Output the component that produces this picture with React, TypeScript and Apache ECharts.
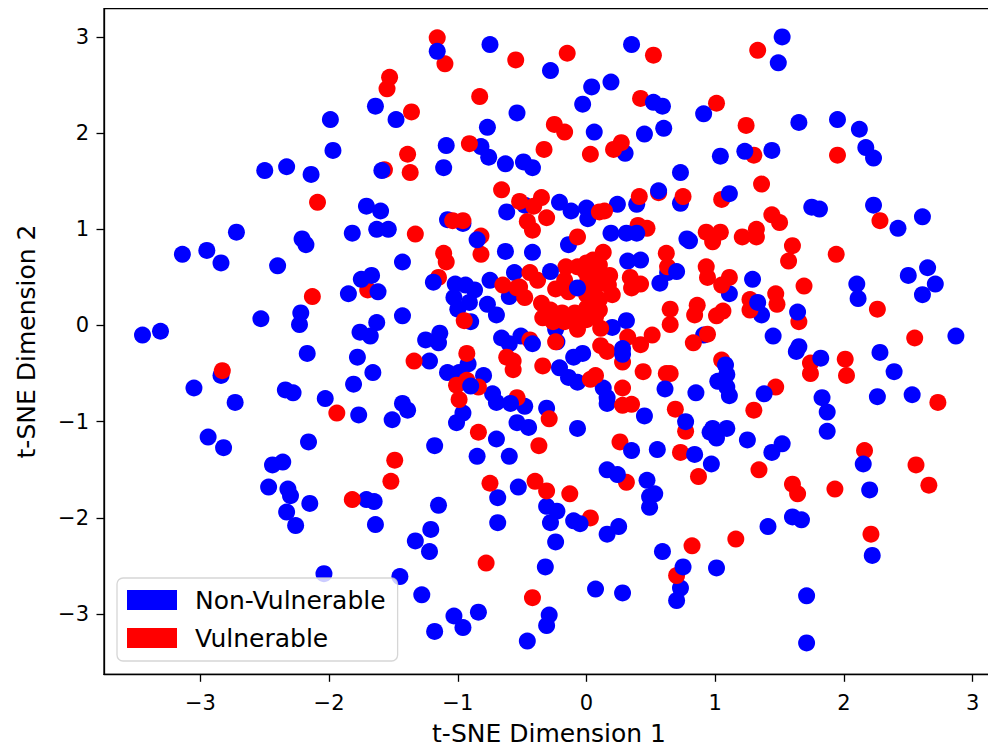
import React, { useEffect, useRef } from "react";
import * as echarts from "echarts";

const tickValues = [-3, -2, -1, 0, 1, 2, 3];
const legendNames = ["Non-Vulnerable", "Vulnerable"];
const xName = "t-SNE Dimension 1";
const yName = "t-SNE Dimension 2";

// Non-vulnerable points drawn beneath the vulnerable ones
const nonVulnerableBack: number[][] = [
[-1.48,2.14],[-1.64,2.28],[-1.99,2.14],[-1.97,1.82],[-2.50,1.61],[-2.33,1.65],[-2.14,1.57],[-1.71,1.24],[-1.60,1.19],[-1.63,1.00],
[-1.54,1.00],[-1.82,0.96],[-2.72,0.97],[-2.95,0.78],[-3.14,0.74],[-2.84,0.65],[-2.21,0.90],[-2.18,0.84],[-2.40,0.62],[-1.43,0.66],
[-1.85,0.33],[-2.22,0.13],[-2.23,0.01],[-2.53,0.07],[-1.63,0.03],[-1.43,0.10],[-1.76,-0.07],[-1.68,-0.11],[-3.31,-0.06],[-3.45,-0.10],
[-2.17,-0.29],[-1.78,-0.33],[-1.66,-0.49],[-1.81,-0.61],[-2.84,-0.52],[-3.05,-0.65],[-2.73,-0.80],[-2.34,-0.67],[-2.28,-0.70],[-2.03,-0.76],
[-1.77,-0.93],[-1.51,-0.98],[-1.43,-0.81],[-1.39,-0.88],[-2.94,-1.16],[-2.82,-1.27],[-2.16,-1.21],[-2.44,-1.45],[-2.36,-1.42],[-2.47,-1.68],
[-2.32,-1.70],[-2.30,-1.77],[-2.15,-1.85],[-2.33,-1.94],[-2.26,-2.08],[-1.71,-1.81],[-1.65,-1.83],[-1.64,-2.07],[-2.04,-2.58],[-1.45,-2.61],
[-0.75,2.92],[-0.28,2.65],[0.04,2.48],[-0.03,2.30],[-0.54,2.21],[-0.77,2.06],[0.06,2.01],[-1.09,1.87],[-0.82,1.86],[-0.76,1.75],
[-0.63,1.68],[-0.49,1.70],[-0.42,1.64],[-1.11,1.64],[-0.62,1.18],[-0.48,1.25],[0.00,1.22],[0.01,1.11],[-1.08,1.10],[-0.96,1.06],
[-0.14,0.84],[-0.63,0.77],[-0.42,0.76],[-0.75,0.47],[-0.56,0.55],[-0.60,0.30],[-1.02,0.43],[-0.94,0.42],[-0.87,0.37],[-1.03,0.29],
[-0.91,0.24],[-1.00,0.17],[-0.77,0.22],[-0.70,0.11],[-0.90,0.04],[-1.14,-0.08],[-1.25,-0.15],[-1.15,-0.18],[-0.66,-0.13],[-0.60,-0.19],
[-0.51,-0.11],[-0.92,-0.40],[-1.08,-0.49],[-0.99,-0.49],[-1.22,-0.37],[-0.80,-0.52],[-0.73,-0.71],[-0.70,-0.80],[-0.96,-0.91],[-1.01,-1.01],
[-0.54,-1.01],[-0.45,-1.06],[-0.48,-0.84],[-0.31,-0.86],[-0.70,-1.18],[-1.18,-1.25],[-0.85,-1.36],[-0.60,-1.36],[-0.07,-1.07],[0.16,-0.81],
[0.45,-0.94],[0.16,-1.50],[0.47,-1.61],[0.49,-1.78],[0.49,-1.89],[-0.53,-1.68],[-0.69,-1.79],[-1.15,-1.87],[-1.21,-2.12],[-1.33,-2.24],
[-1.22,-2.35],[-0.69,-2.05],[-0.31,-1.88],[-0.23,-1.93],[-0.28,-2.05],[-0.24,-2.25],[0.16,-2.17],[0.25,-2.09],[-0.32,-2.51],[-1.28,-2.80],
[0.07,-2.74],[0.28,-2.78],[-0.84,-2.98],[-1.03,-3.02],[-0.96,-3.14],[-1.18,-3.18],[-0.29,-3.01],[-0.31,-3.12],[-0.46,-3.28],[0.35,2.92],
[0.19,2.53],[0.45,1.99],[0.60,2.05],[0.30,1.79],[1.04,1.76],[1.44,1.82],[0.73,1.59],[0.73,1.27],[0.39,1.26],[0.24,1.26],
[0.78,0.90],[0.80,0.88],[1.52,3.00],[1.49,2.73],[1.65,2.11],[1.95,2.14],[2.12,2.04],[2.17,1.85],[2.23,1.74],[1.75,1.23],
[1.81,1.21],[2.23,1.25],[2.42,1.01],[2.61,1.13],[2.10,0.43],[2.11,0.28],[2.50,0.52],[2.65,0.60],[2.71,0.43],[2.61,0.32],
[2.87,-0.11],[2.28,-0.28],[2.39,-0.48],[2.26,-0.74],[2.53,-0.72],[1.83,-0.75],[1.87,-0.90],[1.87,-1.10],[2.20,-1.71],[2.22,-2.39],
[1.60,-1.99],[1.67,-2.02],[1.41,-2.09],[1.71,-2.81],[1.71,-3.30],[1.01,-2.52],[0.59,-2.35],[0.73,-2.73],[0.70,-2.86],[0.55,-1.29],
[0.53,-1.75],[0.98,-1.07],[1.09,-1.07],[1.01,-1.17],[0.96,-1.11],[1.25,-1.19],[1.44,-1.32],[1.52,-1.23],[1.09,-0.51],[1.02,-0.58],
[1.09,-0.64],[1.11,-0.73],[0.85,-0.70],[1.45,-0.11],[1.36,0.11],[1.29,0.48],[1.11,0.33],[0.91,-0.10],[0.32,0.67],[0.42,0.68],
[0.63,0.55],[0.20,-0.02],[0.31,0.05],[-0.24,-0.04],[-0.23,-0.17],[-0.10,-0.33],[-0.03,-0.29],[-0.21,-0.44],[-0.14,-0.54],[-0.07,-0.59],
[0.13,-0.65],[0.16,-0.75],
];

const vulnerablePoints: number[][] = [
[-1.53,2.58],[-1.55,2.46],[-1.57,1.62],[-2.09,1.28],[-1.70,0.37],[-2.13,0.30],[-1.39,1.78],[-1.37,1.59],[-1.36,2.22],[-1.33,0.95],
[-2.83,-0.47],[-1.94,-0.91],[-1.49,-1.40],[-1.52,-1.62],[-1.82,-1.81],[-1.16,2.99],[-1.10,2.72],[-0.55,2.76],[-0.15,2.83],[-0.83,2.38],
[-0.25,2.09],[-0.17,2.01],[-0.91,1.89],[-0.33,1.83],[0.03,1.78],[-0.66,1.41],[-0.52,1.29],[-0.35,1.33],[-0.41,1.24],[-0.46,1.08],
[-0.31,1.12],[-0.42,0.99],[0.10,1.18],[-1.04,1.09],[-0.96,1.09],[-0.82,0.93],[-0.07,0.92],[-1.11,0.75],[-1.09,0.66],[-0.82,0.74],
[-1.15,0.50],[-0.65,0.42],[-0.54,0.39],[-0.95,0.05],[-0.93,-0.29],[-1.34,-0.37],[-0.62,-0.33],[-0.57,-0.37],[-0.57,-0.46],[-1.01,-0.62],
[-0.93,-0.57],[-0.84,-0.64],[-0.99,-0.77],[-0.54,-0.75],[-0.84,-1.11],[-0.29,-0.97],[-0.37,-1.25],[0.28,-0.83],[0.35,-0.82],[0.26,-1.21],
[0.31,-1.63],[-0.75,-1.64],[-0.40,-1.62],[-0.31,-1.72],[-0.13,-1.75],[0.03,-2.00],[-0.78,-2.47],[-0.42,-2.83],[0.52,2.81],[1.33,2.86],
[0.42,2.36],[1.01,2.31],[1.24,2.08],[0.27,1.90],[0.21,1.83],[1.30,1.77],[1.36,1.47],[0.56,1.38],[1.05,1.31],[0.75,1.34],
[0.41,1.34],[0.14,1.19],[1.44,1.15],[1.50,1.07],[0.40,1.04],[0.47,1.01],[0.93,0.97],[1.04,0.97],[0.98,0.87],[1.21,0.92],
[1.32,1.00],[1.32,0.92],[0.62,0.75],[1.60,0.83],[1.57,0.67],[1.94,0.74],[1.69,0.41],[2.26,0.17],[2.28,1.09],[1.95,1.77],
[1.65,0.04],[2.55,-0.13],[0.93,0.61],[0.94,0.50],[1.11,0.50],[1.05,0.42],[1.27,0.27],[1.27,0.16],[1.47,0.33],[1.48,0.22],
[0.86,0.21],[0.84,0.11],[1.06,0.15],[1.01,0.10],[0.65,0.17],[0.65,0.01],[0.94,-0.09],[0.83,-0.18],[1.05,-0.36],[1.47,-0.64],
[1.30,-0.88],[1.74,-0.39],[1.74,-0.50],[2.01,-0.35],[2.02,-0.52],[2.73,-0.80],[2.16,-1.30],[2.56,-1.45],[2.66,-1.66],[1.93,-1.70],
[1.60,-1.65],[1.64,-1.75],[2.21,-2.17],[1.34,-1.50],[0.87,-1.57],[0.77,-1.10],[0.73,-1.32],[0.65,-0.50],[0.69,-0.87],[1.16,-2.22],
[0.82,-2.29],[0.70,-2.60],[0.13,0.76],[0.05,0.68],[-0.16,0.61],[-0.07,0.61],[0.00,0.65],[-0.01,0.56],[0.09,0.52],[0.17,0.42],
[0.20,0.32],[0.07,0.40],[0.05,0.29],[0.00,0.32],[-0.24,0.38],[-0.14,0.35],[-0.44,0.55],[-0.38,0.47],[-0.52,0.40],[-0.48,0.29],
[-0.35,0.23],[-0.34,0.08],[-0.28,0.16],[-0.19,0.13],[-0.09,0.13],[0.00,0.18],[0.07,0.09],[0.11,-0.03],[-0.07,-0.04],[-0.24,-0.17],
[-0.44,-0.15],[-0.34,-0.42],[0.07,-0.52],[0.03,-0.56],[0.11,-0.21],[0.16,-0.27],[0.32,-0.12],[0.42,-0.20],[0.28,-0.38],[0.51,-0.10],
[0.44,-0.48],[0.62,-0.50],[0.28,-0.65],[0.34,0.50],[0.35,0.39],[0.42,0.43],[0.63,0.61],
[0.10,0.63],[-0.17,0.47],[0.01,0.47],[0.10,0.27],[0.10,0.16],[0.00,0.06],[-0.17,0.04],[-0.26,0.04],[-0.09,0.06],[0.18,0.52],
];

// Non-vulnerable points that lie on top of vulnerable ones
const nonVulnerableFront: number[][] = [
[-1.59,1.61],[-1.16,2.85],[-0.85,0.89],[-1.19,0.45],[-0.90,-0.63],[-0.07,0.39],[-0.42,-0.19],[0.28,-0.24],[0.28,-0.30],[1.23,1.81],
[0.56,1.40],[1.11,1.37],[0.19,0.96],[0.31,0.96],[0.39,0.96],[0.70,0.56],[1.33,0.24],[1.64,0.14],[1.08,-0.41],[1.38,-0.71],
[0.77,-1.00],[0.75,-2.51],[2.15,-1.44],[-0.10,-2.03],[-0.05,-2.06],[0.24,-1.55],[0.35,-1.30],[-1.67,0.52],[-1.75,0.48],[-1.62,0.35],
[-0.59,-0.81],[0.61,-0.66],[0.52,2.32],[0.59,2.28],[0.91,2.20],[-0.28,0.56],[-0.21,1.28],[-0.12,1.19],[0.84,-1.34],[0.97,-1.44],
[1.82,-0.34],[1.65,-0.22],[1.63,-0.27],[0.57,0.44],
];

function App() {
  const ref = useRef<HTMLDivElement>(null);
  useEffect(() => {
    const chart = echarts.init(ref.current!, undefined, { renderer: "svg" });
    const font = "DejaVu Sans";
    const axisBase = {
      type: "value" as const,
      nameLocation: "middle" as const,
      nameTextStyle: { fontFamily: font, fontSize: 25, lineHeight: 22, color: "#000" },
      splitLine: { show: false },
      axisLine: { show: true, onZero: false, lineStyle: { color: "#000", width: 1.3 } },
      axisTick: { show: true, length: 7.5, customValues: tickValues, lineStyle: { color: "#000", width: 1.3 } },
    };
    const axisLabel = (margin: number) => ({
      show: true,
      margin,
      customValues: tickValues,
      fontFamily: font,
      fontSize: 21,
      color: "#000",
      formatter: (v: number) => String(v).replace("-", "\u2212"),
    });
    const scatter = (name: string, data: number[][], color: string) => ({
      type: "scatter" as const,
      name,
      data,
      symbol: "circle",
      symbolSize: 17,
      itemStyle: { color, opacity: 1 },
      emphasis: { disabled: true },
    });
    chart.setOption({
      animation: false,
      backgroundColor: "#fff",
      grid: {
        show: true,
        left: 104,
        top: 8.7,
        width: 890,
        height: 665.6,
        outerBoundsMode: "none",
        borderColor: "#000",
        borderWidth: 1.3,
        backgroundColor: "transparent",
      },
      xAxis: { ...axisBase, min: -3.749, max: 3.166, name: xName, nameGap: 48, axisLabel: axisLabel(18) },
      yAxis: { ...axisBase, min: -3.626, max: 3.293, name: yName, nameGap: 67, axisLabel: axisLabel(15) },
      legend: {
        left: 117,
        top: 578,
        orient: "vertical",
        align: "left",
        data: legendNames,
        icon: "rect",
        itemWidth: 50,
        itemHeight: 20,
        itemGap: 13,
        padding: [9.5, 12, 10.5, 10],
        selectedMode: false,
        backgroundColor: "rgba(255,255,255,0.8)",
        borderColor: "rgba(204,204,204,0.8)",
        borderWidth: 1.3,
        borderRadius: 6,
        textStyle: { fontFamily: font, fontSize: 25, lineHeight: 20, color: "#000", padding: [0, 0, 0, 13] },
      },
      series: [
        scatter(legendNames[0], nonVulnerableBack, "#0000ff"),
        scatter(legendNames[1], vulnerablePoints, "#ff0000"),
        scatter(legendNames[0], nonVulnerableFront, "#0000ff"),
      ],
    });
    return () => chart.dispose();
  }, []);
  return (
    <div
      ref={ref}
      style={{ position: "fixed", left: 0, top: 0, width: 988, height: 749, background: "#fff", overflow: "hidden" }}
    />
  );
}

export default App;
